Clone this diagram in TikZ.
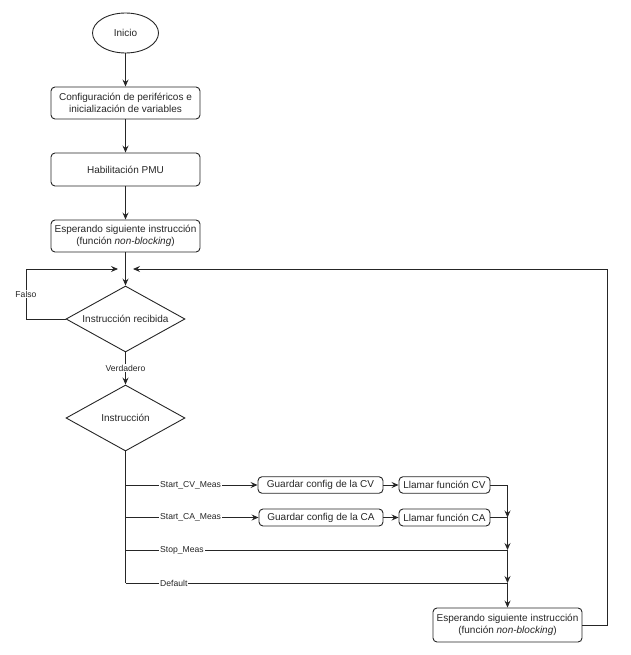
\documentclass[tikz,border=0pt]{standalone}
\usepackage{fontspec}
\setmainfont{Liberation Sans}
\usetikzlibrary{shapes.geometric,arrows.meta}
\begin{document}
\begin{tikzpicture}[x=1pt,y=-1pt,
  every node/.style={font=\fontsize{10}{12}\selectfont, text=black!85},
  proc/.style={draw=black!85, line width=0.9pt, rounded corners=4pt, align=center, inner sep=0pt},
  term/.style={draw=black!85, line width=0.9pt, ellipse, inner sep=0pt},
  decis/.style={draw=black!85, line width=0.9pt, diamond, inner sep=0pt, aspect=1.8, minimum width=119pt, minimum height=66pt},
  conn/.style={draw=black!85, line width=0.9pt},
  arr/.style={conn, -{Stealth[length=7pt,width=6pt,inset=2.5pt]}},
  lbl/.style={font=\fontsize{8.6}{10}\selectfont, fill=white, inner sep=1pt}
]
\useasboundingbox (0,0) rectangle (630,655);

\node[term, minimum width=66pt, minimum height=40pt] (inicio) at (125.5,33) {Inicio};
\node[proc, minimum width=149pt, minimum height=32pt] (conf) at (125.5,103) {Configuración de periféricos e\\inicialización de variables};
\node[proc, minimum width=149pt, minimum height=33pt] (pmu) at (125.5,169.5) {Habilitación PMU};
\node[proc, minimum width=149pt, minimum height=32pt] (esp1) at (125.5,236) {Esperando siguiente instrucción\\(función \textit{non-blocking})};
\node[decis] (d1) at (125.5,319) {Instrucción recibida};
\node[decis] (d2) at (125.5,418) {Instrucción};
\node[proc, minimum width=125pt, minimum height=16.5pt] (gcv) at (320.5,485) {Guardar config de la CV};
\node[proc, minimum width=124pt, minimum height=17pt] (gca) at (321,517.5) {Guardar config de la CA};
\node[proc, minimum width=91pt, minimum height=16.5pt] (lcv) at (444.5,485) {Llamar función CV};
\node[proc, minimum width=91pt, minimum height=17pt] (lca) at (444.5,517.5) {Llamar función CA};
\node[proc, minimum width=149pt, minimum height=34pt] (esp2) at (507.5,625) {Esperando siguiente instrucción\\(función \textit{non-blocking})};

\coordinate (mL) at (118,269);
\coordinate (mR) at (133,269);
\coordinate (b1) at (125.5,485);
\coordinate (b2) at (125.5,517.5);
\coordinate (b3) at (125.5,550);
\coordinate (b4) at (125.5,583);
\coordinate (j1) at (507.5,517.5);
\coordinate (j2) at (507.5,550);
\coordinate (j3) at (507.5,583);

\draw[arr] (inicio) -- (conf);
\draw[arr] (conf) -- (pmu);
\draw[arr] (pmu) -- (esp1);
\draw[arr] (esp1) -- (d1);
\draw[arr] (d1.west) -- (26,319) -- (26,269) -- (mL);
\node[lbl] (lfalso) at (26,294) {Falso};
\draw[arr] (esp2.east) -- (607,625) -- (607,269) -- (mR);
\draw[arr] (d1.south) -- (d2.north);
\node[lbl] (lverd) at (125.5,368) {Verdadero};

\draw[conn] (d2.south) -- (b4);
\draw[arr] (b1) -- (gcv.west);
\draw[arr] (b2) -- (gca.west);
\draw[arr] (gcv) -- (lcv);
\draw[arr] (gca) -- (lca);
\draw[arr] (lcv.east) -| (j1);
\draw[arr] (lca.east) -| (j2);
\draw[arr] (b3) -- (507.5,550) -- (j3);
\draw[arr] (b4) -- (507.5,583) -- (esp2.north);

\node[lbl, anchor=west] (l1) at (159,485) {Start\_CV\_Meas};
\node[lbl, anchor=west] (l2) at (159,517.5) {Start\_CA\_Meas};
\node[lbl, anchor=west] (l3) at (159,550) {Stop\_Meas};
\node[lbl, anchor=west] (l4) at (159,583) {Default};
\end{tikzpicture}
\end{document}
